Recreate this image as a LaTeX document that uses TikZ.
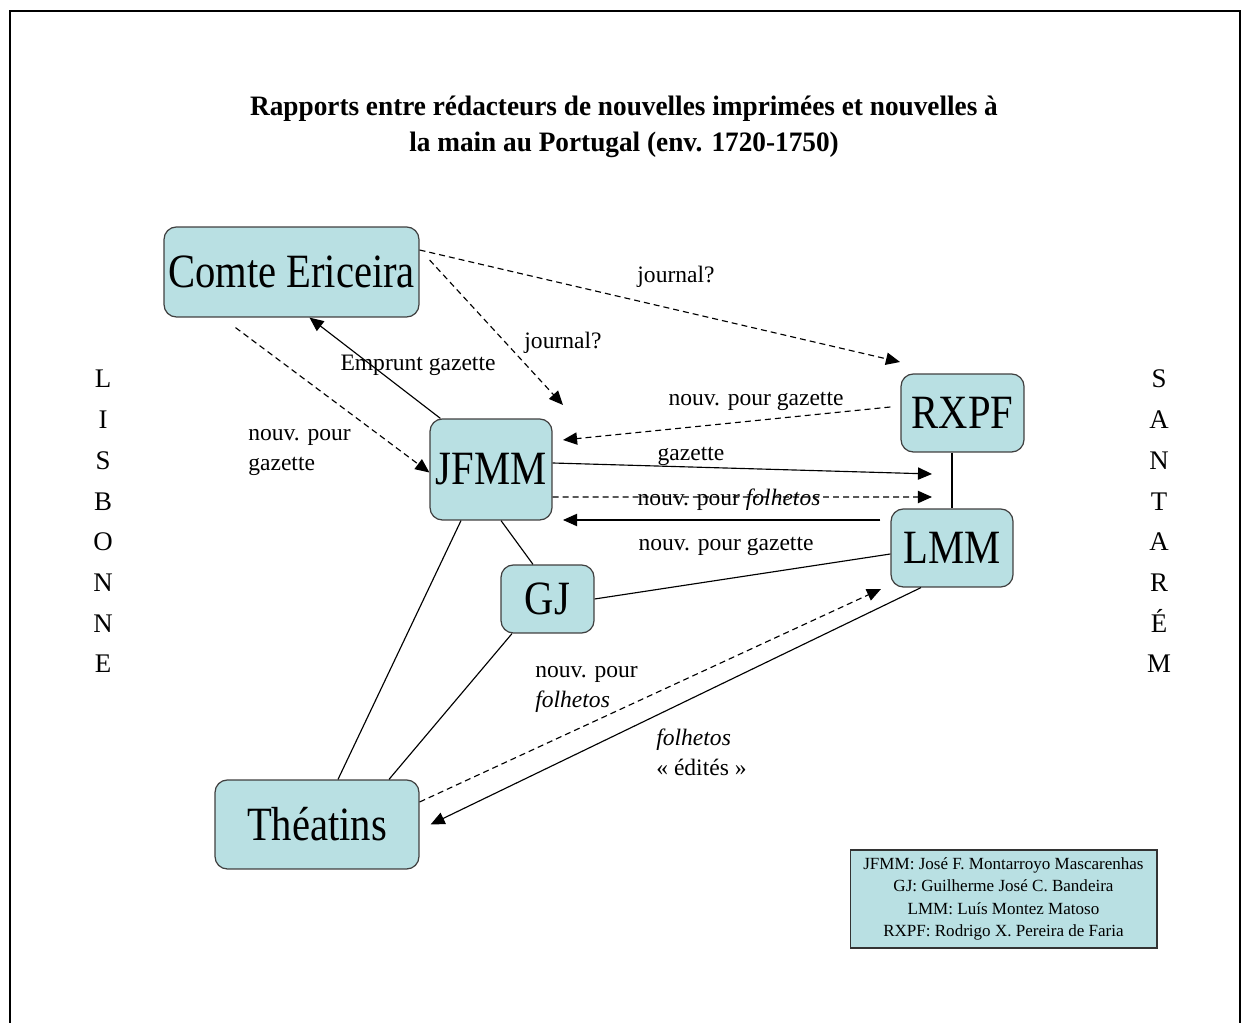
\documentclass[tikz,border=0pt]{standalone}
\usepackage{fontspec}
\setmainfont{Liberation Serif}
\newfontfamily\narrowfont[FakeStretch=0.85]{Liberation Serif}
\newfontfamily\titlefont[FakeStretch=0.97]{Liberation Serif}
\usetikzlibrary{arrows.meta,calc}
\definecolor{boxfill}{RGB}{185,224,227}
\tikzset{
  >={Triangle[length=8pt,width=7pt]},
  pers/.style ={draw=black!75, line width=0.7pt, rounded corners=7pt, fill=boxfill, inner sep=0pt, font=\narrowfont\fontsize{27.2}{30}\selectfont},
  lbl/.style  ={inner sep=0pt, font=\fontsize{13.4}{17.6}\selectfont},
  side/.style ={inner sep=0pt, anchor=base, font=\fontsize{15.3}{18}\selectfont},
  keybox/.style={draw=black!80, line width=0.6pt, fill=boxfill, inner sep=0pt, align=center, font=\fontsize{9.7}{12.8}\selectfont},
  link/.style ={line width=0.65pt},
  dsh/.style  ={link, dash pattern=on 3.4pt off 2.3pt}
}

\begin{document}
\begin{tikzpicture}[x=0.02cm, y=-0.02cm]
\useasboundingbox (0,0) rectangle (1242,1023);
\draw[line width=1.3pt] (10,1030) |- (1240,11) -- (1240,1030);

\node[align=center, inner sep=0pt, font=\titlefont\bfseries\fontsize{16}{20.4}\selectfont] (ttl) at (624,126.5)
  {Rapports entre rédacteurs de nouvelles imprimées et nouvelles à\\la main au Portugal (env. 1720-1750)};

\node[pers, minimum width=5.1cm,  minimum height=1.8cm]  (CE)   at (291.5,272)  {Comte Ericeira};
\node[pers, minimum width=2.44cm, minimum height=2.02cm] (JFMM) at (491,469.5)  {JFMM};
\node[pers, minimum width=2.46cm, minimum height=1.56cm] (RXPF) at (962.5,413)  {RXPF};
\node[pers, minimum width=2.44cm, minimum height=1.56cm] (LMM)  at (952,548)    {LMM};
\node[pers, minimum width=1.86cm, minimum height=1.36cm] (GJ)   at (547.5,599)  {GJ};
\node[pers, minimum width=4.08cm, minimum height=1.78cm] (TH)   at (317,824.5)  {Théatins};

\node[keybox, minimum width=6.14cm, minimum height=1.96cm] (key) at (1003.5,899)
  {JFMM: José F. Montarroyo Mascarenhas\\GJ: Guilherme José C. Bandeira\\LMM: Luís Montez Matoso\\RXPF: Rodrigo X. Pereira de Faria};

\foreach \ch [count=\i] in {L,I,S,B,O,N,N,E}
  \node[side] (lis\i) at (103,{388+40.7*(\i-1)}) {\ch};
\foreach \ch [count=\i] in {S,A,N,T,A,R,É,M}
  \node[side] (san\i) at (1159,{388+40.7*(\i-1)}) {\ch};

\coordinate (tipR)  at (900,362);
\coordinate (tipJa) at (563,405);
\coordinate (tipJb) at (563,440);
\coordinate (tipL1) at (932,474);
\coordinate (tipL2) at (932,497);
\coordinate (tipJc) at (563,520);
\coordinate (tipL3) at (881,589);

\draw[dsh,->]  ($(CE.east)+(0,-22)$) -- (tipR);
\draw[dsh,->]  ($(CE.east)+(10,-12)$) -- (tipJa);
\draw[dsh,->]  ($(CE.south)+(-56,10)$) -- ($(JFMM.west)+(0,3)$);
\draw[link,->] ($(JFMM.north west)+(11,0)$) -- ($(CE.south)+(18,0)$);
\draw[dsh,->]  ($(RXPF.west)+(-10,-6)$) -- (tipJb);
\draw[link,->] ($(JFMM.east)+(0,-6.5)$) -- (tipL1);
\draw[dsh,->]  ($(JFMM.east)+(0,27.5)$) -- (tipL2);
\draw[link,->] ($(LMM.west)+(-10,-28)$) -- (tipJc);
\draw[link]    (RXPF.south -| LMM.north) -- (LMM.north);
\draw[link]    ($(JFMM.south)+(10,0)$) -- ($(GJ.north)+(-14.5,0)$);
\draw[link]    (GJ.east) -- ($(LMM.west)+(0,6)$);
\draw[link]    ($(JFMM.south)+(-30,0)$) -- ($(TH.north)+(21,0)$);
\draw[link]    ($(GJ.south)+(-35.5,0)$) -- ($(TH.north)+(72,0)$);
\draw[dsh,->]  ($(TH.east)+(0,-22.5)$) -- (tipL3);
\draw[link,->] ($(LMM.south)+(-31,0)$) -- ($(TH.east)+(11,0)$);

\node[lbl, anchor=base] (l1) at (676,283) {journal?};
\node[lbl, anchor=base] (l2) at (563,349) {journal?};
\node[lbl, anchor=base] (l3) at (418,371) {Emprunt gazette};
\node[lbl, anchor=base west, align=left] (l4) at (248,471) {nouv. pour\\gazette};
\node[lbl, anchor=base] (l5) at (756,406) {nouv. pour gazette};
\node[lbl, anchor=base] (l6) at (691,461) {gazette};
\node[lbl, anchor=base] (l7) at (729,506) {nouv. pour \textit{folhetos}};
\node[lbl, anchor=base] (l8) at (726,551) {nouv. pour gazette};
\node[lbl, anchor=base west, align=left] (l9) at (535,708) {nouv. pour\\\textit{folhetos}};
\node[lbl, anchor=base west, align=left] (l10) at (656,776) {\textit{folhetos}\\« édités »};
\end{tikzpicture}
\end{document}
